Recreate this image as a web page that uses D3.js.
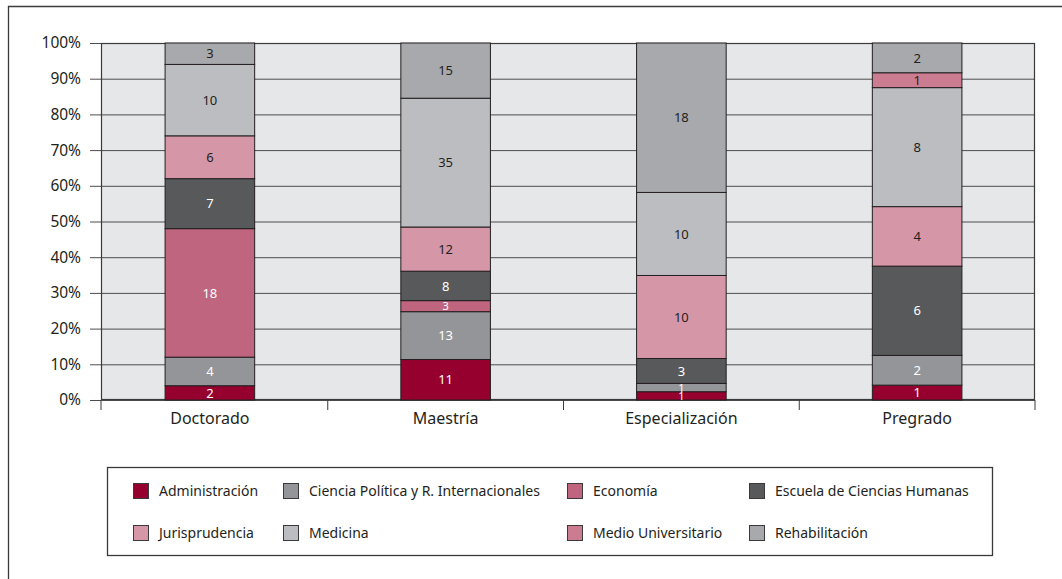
<!DOCTYPE html>
<html>
<head>
<meta charset="utf-8">
<script src="https://cdn.jsdelivr.net/npm/d3@7"></script>
<style>
  body { margin: 0; background: #fff; }
  svg text { font-family: "Noto Sans", "DejaVu Sans", sans-serif; fill: #231f20; }
</style>
</head>
<body>
<svg id="chart" width="1062" height="579"></svg>
<script>
// data (counts per programme level)
var categories = ["Doctorado", "Maestría", "Especialización", "Pregrado"];
var seriesNames = ["Administración", "Ciencia Política y R. Internacionales", "Economía",
  "Escuela de Ciencias Humanas", "Jurisprudencia", "Medicina", "Medio Universitario", "Rehabilitación"];
var administracion     = [2, 11, 1, 1];
var cienciaPolitica    = [4, 13, 1, 2];
var economia           = [18, 3, 0, 0];
var escuela            = [7, 8, 3, 6];
var jurisprudencia     = [6, 12, 10, 4];
var medicina           = [10, 35, 10, 8];
var medioUniversitario = [0, 0, 0, 1];
var rehabilitacion     = [3, 15, 18, 2];
var yTicks = [0, 0.1, 0.2, 0.3, 0.4, 0.5, 0.6, 0.7, 0.8, 0.9, 1];

var seriesValues = [administracion, cienciaPolitica, economia, escuela,
  jurisprudencia, medicina, medioUniversitario, rehabilitacion];
var colors = ["#96002f", "#939598", "#c0657f", "#58595b", "#d597a8", "#bcbdc0", "#cb7c90", "#a7a9ac"];
var labelColors = ["#fff", "#fff", "#fff", "#fff", "#231f20", "#231f20", "#231f20", "#231f20"];

// build table for d3.stack
var table = categories.map(function (c, i) {
  var row = { cat: c };
  seriesNames.forEach(function (s, j) { row[s] = seriesValues[j][i]; });
  return row;
});

var svg = d3.select("#chart");

var plotLeft = 101, plotRight = 1035, plotTop = 43, plotBottom = 400;

var x = d3.scaleBand().domain(categories).range([92, plotRight]).paddingInner(0.62).paddingOuter(0.31);
var y = d3.scaleLinear().domain([0, 1]).range([plotBottom, plotTop]);
var color = d3.scaleOrdinal().domain(seriesNames).range(colors);

// outer frame (open at right / bottom)
svg.append("path")
  .attr("d", "M8.5,579V6.5H1062")
  .attr("fill", "none").attr("stroke", "#3a3a3a").attr("stroke-width", 1.3);

// plot background
svg.append("rect")
  .attr("x", plotLeft).attr("y", plotTop)
  .attr("width", plotRight - plotLeft).attr("height", plotBottom - plotTop)
  .attr("fill", "#e6e7e8");

// gridlines + y labels
var yAxis = svg.append("g").attr("transform", "translate(" + plotLeft + ",0)")
  .call(d3.axisLeft(y).tickValues(yTicks).tickSize(-(plotRight - plotLeft)).tickPadding(20)
    .tickFormat(function (d) { return Math.round(d * 100) + "%"; }));
yAxis.select(".domain").remove();
yAxis.selectAll(".tick line").attr("stroke", "#4d4d4f").attr("x1", -11);
yAxis.selectAll(".tick text").attr("font-size", 15.5).attr("dx", 0);

// plot border
svg.append("rect")
  .attr("x", plotLeft + 0.5).attr("y", plotTop + 0.5)
  .attr("width", plotRight - plotLeft - 1).attr("height", plotBottom - plotTop - 1)
  .attr("fill", "none").attr("stroke", "#3a3a3a").attr("stroke-width", 1.2);

// stacked bars (100%)
var stack = d3.stack().keys(seriesNames).offset(d3.stackOffsetExpand);
var layers = stack(table);

var groups = svg.append("g").selectAll("g")
  .data(layers).enter().append("g")
  .attr("fill", function (d) { return color(d.key); });

groups.selectAll("rect")
  .data(function (d) { return d; })
  .enter().append("rect")
  .attr("x", function (d) { return x(d.data.cat); })
  .attr("width", x.bandwidth())
  .attr("y", function (d) { return y(d[1]); })
  .attr("height", function (d) { return y(d[0]) - y(d[1]); })
  .attr("stroke", "#231f20").attr("stroke-width", 1);

// segment value labels (tiny segments get a slightly smaller label)
layers.forEach(function (layer, j) {
  svg.append("g").selectAll("text")
    .data(layer.filter(function (d) { return d.data[layer.key] > 0; }))
    .enter().append("text")
    .attr("x", function (d) { return x(d.data.cat) + x.bandwidth() / 2; })
    .attr("y", function (d) { return (y(d[0]) + y(d[1])) / 2; })
    .attr("dy", "0.36em")
    .attr("text-anchor", "middle")
    .attr("font-size", function (d) { return (y(d[0]) - y(d[1])) < 12 ? 11 : 13; })
    .style("fill", labelColors[j])
    .text(function (d) { return d.data[layer.key]; });
});

// x axis: ticks at band boundaries, labels centred
var xBase = svg.append("g");
var bounds = categories.map(function (c) { return x(c) - x.step() * x.paddingInner() / 2; });
bounds.push(plotRight);
bounds[0] = plotLeft;
xBase.selectAll("line").data(bounds).enter().append("line")
  .attr("x1", function (d) { return d; }).attr("x2", function (d) { return d; })
  .attr("y1", plotBottom).attr("y2", plotBottom + 10)
  .attr("stroke", "#3a3a3a");
xBase.selectAll("text").data(categories).enter().append("text")
  .attr("x", function (d) { return x(d) + x.bandwidth() / 2; })
  .attr("y", 418).attr("dy", "0.35em")
  .attr("text-anchor", "middle").attr("font-size", 16)
  .text(function (d) { return d; });

// legend
svg.append("rect")
  .attr("x", 107.5).attr("y", 467.5).attr("width", 885).attr("height", 88)
  .attr("fill", "#fff").attr("stroke", "#3a3a3a").attr("stroke-width", 1.3);

var legendX = [133, 283, 567, 749];
var legendY = [491, 533];
var legend = svg.append("g").selectAll("g")
  .data(seriesNames).enter().append("g")
  .attr("transform", function (d, i) {
    return "translate(" + legendX[i % 4] + "," + legendY[Math.floor(i / 4)] + ")";
  });
legend.append("rect")
  .attr("x", 0.5).attr("y", -7.5).attr("width", 15).attr("height", 15)
  .attr("fill", function (d) { return color(d); })
  .attr("stroke", "#3a3a3a");
legend.append("text")
  .attr("x", 26).attr("dy", "0.35em").attr("font-size", 14)
  .text(function (d) { return d; });
</script>
</body>
</html>
